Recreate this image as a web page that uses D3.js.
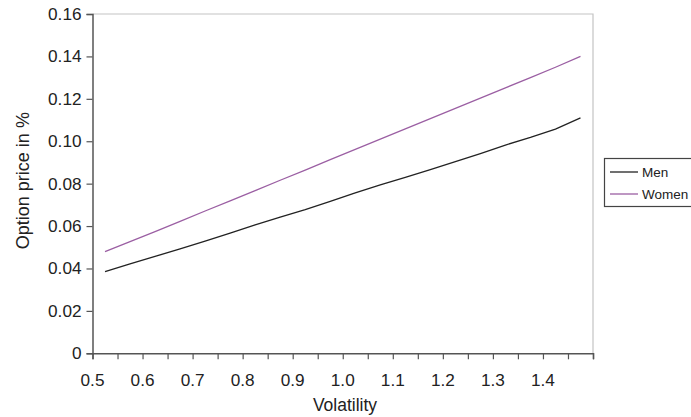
<!DOCTYPE html>
<html>
<head>
<meta charset="utf-8">
<script src="https://cdn.jsdelivr.net/npm/d3@7"></script>
<style>
  html, body { margin: 0; padding: 0; background: #fff; }
  svg { display: block; font-family: "Liberation Sans", Arial, sans-serif; }
</style>
</head>
<body>
<svg id="chart" width="691" height="417"></svg>
<script>
const volatility = [0.525, 0.575, 0.625, 0.675, 0.725, 0.775, 0.825, 0.875, 0.925, 0.975,
                    1.025, 1.075, 1.125, 1.175, 1.225, 1.275, 1.325, 1.375, 1.425, 1.475];
const men = [0.0385, 0.0422, 0.0457, 0.0492, 0.0529, 0.0567, 0.0606, 0.0642, 0.0677, 0.0716,
             0.0756, 0.0794, 0.0830, 0.0866, 0.0904, 0.0942, 0.0982, 0.1018, 0.1057, 0.1110];
const women = [0.0479, 0.0527, 0.0574, 0.0622, 0.0671, 0.0719, 0.0767, 0.0816, 0.0864, 0.0913,
               0.0962, 0.1010, 0.1058, 0.1107, 0.1155, 0.1203, 0.1252, 0.1300, 0.1349, 0.1400];
const xTicks = [0.5, 0.55, 0.6, 0.65, 0.7, 0.75, 0.8, 0.85, 0.9, 0.95, 1.0,
                1.05, 1.1, 1.15, 1.2, 1.25, 1.3, 1.35, 1.4, 1.45, 1.5];
const xLabels = [0.5, 0.6, 0.7, 0.8, 0.9, 1.0, 1.1, 1.2, 1.3, 1.4];
const yTicks = [0, 0.02, 0.04, 0.06, 0.08, 0.10, 0.12, 0.14, 0.16];
const seriesNames = ["Men", "Women"];
const seriesColors = ["#222222", "#9b5fa3"];

const svg = d3.select("#chart");
const mLeft = 92.5, mRight = 593, mTop = 14, mBottom = 353.3;

const x = d3.scaleLinear().domain([0.5, 1.5]).range([mLeft, mRight]);
const y = d3.scaleLinear().domain([0, 0.16]).range([mBottom, mTop]);

// plot frame top/right (light gray)
svg.append("path")
  .attr("d", `M${mLeft},${mTop}H${mRight}V${mBottom}`)
  .attr("fill", "none").attr("stroke", "#c4c4c4").attr("stroke-width", 1.2);

// Y axis
const yAxis = d3.axisLeft(y).tickValues(yTicks).tickSize(6).tickPadding(5)
  .tickFormat(d => d === 0 ? "0" : d3.format(".2f")(d));
const gy = svg.append("g").attr("transform", `translate(${mLeft},0)`).call(yAxis);
gy.select(".domain").attr("stroke", "#555").attr("stroke-width", 1.5);
gy.selectAll(".tick line").attr("stroke", "#555").attr("stroke-width", 1.2);
gy.selectAll(".tick text").attr("font-size", 17.2).attr("fill", "#222")
  .attr("font-family", "'Liberation Sans', Arial, sans-serif");

// X axis
const xAxis = d3.axisBottom(x).tickValues(xTicks).tickSize(6).tickFormat("");
const gx = svg.append("g").attr("transform", `translate(0,${mBottom})`).call(xAxis);
gx.select(".domain").attr("stroke", "#555").attr("stroke-width", 1.5);
gx.selectAll(".tick line").attr("stroke", "#555").attr("stroke-width", 1.2);
svg.append("g").selectAll("text").data(xLabels).join("text")
  .attr("x", d => x(d)).attr("y", 386)
  .attr("text-anchor", "middle").attr("font-size", 17.2).attr("fill", "#222")
  .text(d => d3.format(".1f")(d));

// axis titles
svg.append("text").attr("x", 345).attr("y", 411)
  .attr("text-anchor", "middle").attr("font-size", 17.5).attr("fill", "#222").text("Volatility");
svg.append("text").attr("transform", `translate(29,${(mTop + mBottom) / 2 - 3}) rotate(-90)`)
  .attr("text-anchor", "middle").attr("font-size", 18).attr("fill", "#222").text("Option price in %");

// lines
const line = d3.line().x((d, i) => x(volatility[i])).y(d => y(d));
[men, women].forEach((s, k) => {
  svg.append("path").datum(s).attr("d", line)
    .attr("fill", "none").attr("stroke", seriesColors[k]).attr("stroke-width", 1.3);
});

// legend
const lg = svg.append("g");
lg.append("rect").attr("x", 604.5).attr("y", 158.5).attr("width", 100).attr("height", 48)
  .attr("fill", "#fff").attr("stroke", "#444").attr("stroke-width", 1.2);
seriesNames.forEach((n, k) => {
  const yy = 172 + k * 22;
  lg.append("line").attr("x1", 610).attr("x2", 638).attr("y1", yy).attr("y2", yy)
    .attr("stroke", seriesColors[k]).attr("stroke-width", 1.3);
  lg.append("text").attr("x", 642).attr("y", yy + 5).attr("font-size", 13.5)
    .attr("fill", "#222").text(n);
});
</script>
</body>
</html>
